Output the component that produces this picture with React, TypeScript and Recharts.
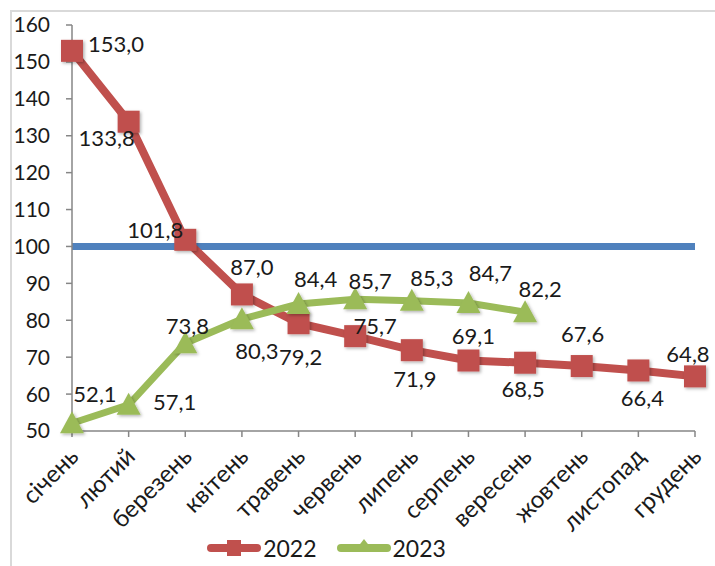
import React from "react";
import { LineChart, Line, XAxis, YAxis, ReferenceLine, LabelList, Legend } from "recharts";

const months = ["січень", "лютий", "березень", "квітень", "травень", "червень", "липень", "серпень", "вересень", "жовтень", "листопад", "грудень"];
const values2022 = [153.0, 133.8, 101.8, 87.0, 79.2, 75.7, 71.9, 69.1, 68.5, 67.6, 66.4, 64.8];
const values2023: (number | null)[] = [52.1, 57.1, 73.8, 80.3, 84.4, 85.7, 85.3, 84.7, 82.2, null, null, null];
const yTicks = [50, 60, 70, 80, 90, 100, 110, 120, 130, 140, 150, 160];
const baseline = 100;

// label placement (dx, dy from the point, to the label centre)
const labelShift2022 = [[44, -7], [-22, 16], [-30, -10], [10, -28], [2, 33], [20, -11], [3, 28], [5, -25], [-2, 26], [1, -33], [4, 27], [-7, -23]];
const labelShift2023 = [[23, -30], [46, -3], [2, -18], [15, 31], [17, -26], [15, -19], [20, -23], [22, -30], [15, -24]];

const data = months.map((m, i) => ({ month: m, y2022: values2022[i], y2023: values2023[i] }));

const RED = "#C0504D";
const GREEN = "#9BBB59";
const BLUE = "#4F81BD";
const AXIS = "#868686";
const FONT = "Lato, 'Liberation Sans', sans-serif";

const fmt = (v: number) => v.toFixed(1).replace(".", ",");

const makeLabel = (shifts: number[][]) => (props: any) => {
  const { x, y, value, index } = props;
  if (value == null || x == null || y == null) return null;
  const s = shifts[index] || [0, 0];
  return (
    <text x={x + s[0]} y={y + s[1]} textAnchor="middle" dominantBaseline="central" fontFamily={FONT} fontSize={22} fill="#1a1a1a">
      {fmt(value)}
    </text>
  );
};

const SquareDot = (props: any) => {
  const { cx, cy, index } = props;
  if (cx == null || cy == null) return <g key={`s${index}`} />;
  return <rect key={`s${index}`} x={cx - 11} y={cy - 11} width={22} height={22} fill={RED} filter="url(#mshadow)" />;
};

const TriDot = (props: any) => {
  const { cx, cy, index, value } = props;
  if (cx == null || cy == null || value == null) return <g key={`t${index}`} />;
  return <path key={`t${index}`} d={`M${cx},${cy - 12} L${cx + 12},${cy + 10} L${cx - 12},${cy + 10} Z`} fill={GREEN} filter="url(#mshadow)" />;
};

const XTick = (props: any) => {
  const { x, y, payload } = props;
  const ax = x + 8;
  const ay = y + 19;
  return (
    <text x={ax} y={ay} transform={`rotate(-45, ${ax}, ${ay})`} textAnchor="end" fontFamily={FONT} fontSize={24} fill="#1a1a1a">
      {payload.value}
    </text>
  );
};

const LegendContent = () => (
  <div style={{ display: "flex", justifyContent: "center", alignItems: "center", height: 30, fontFamily: FONT, fontSize: 23, color: "#1a1a1a", paddingRight: 43 }}>
    <svg width={56} height={20} style={{ marginRight: 1 }}>
      <line x1={5} y1={10} x2={51} y2={10} stroke={RED} strokeWidth={8} strokeLinecap="round" />
      <rect x={21} y={2} width={14} height={16} fill={RED} />
    </svg>
    <span style={{ marginRight: 19 }}>2022</span>
    <svg width={56} height={20} style={{ marginRight: 1 }}>
      <line x1={5} y1={10} x2={51} y2={10} stroke={GREEN} strokeWidth={8} strokeLinecap="round" />
      <path d="M28,1 L35,10 L21,10 Z" fill={GREEN} />
    </svg>
    <span>2023</span>
  </div>
);

export default function App() {
  return (
    <div style={{ position: "absolute", left: 0, top: 0, width: 715, height: 566, overflow: "hidden", background: "#fff" }}>
      <div style={{ position: "absolute", left: 10, top: 10, width: 720, height: 580, border: "2px solid #d9d9d9" }} />
      <LineChart width={715} height={566} data={data} margin={{ top: 25, right: 20, bottom: 3, left: 0 }}>
        <defs>
          <filter id="mshadow" x="-50%" y="-50%" width="200%" height="200%">
            <feDropShadow dx={1.5} dy={1.5} stdDeviation={1.5} floodColor="#000" floodOpacity={0.3} />
          </filter>
        </defs>
        <XAxis
          dataKey="month"
          interval={0}
          tick={<XTick />}
          tickSize={6}
          axisLine={{ stroke: AXIS, strokeWidth: 1.5 }}
          tickLine={{ stroke: AXIS, strokeWidth: 1.5 }}
          height={102}
        />
        <YAxis
          domain={[50, 160]}
          ticks={yTicks}
          interval={0}
          width={72}
          tickSize={6}
          tickMargin={16}
          axisLine={{ stroke: AXIS, strokeWidth: 1.5 }}
          tickLine={{ stroke: AXIS, strokeWidth: 1.5 }}
          tick={{ fontFamily: FONT, fontSize: 21, fill: "#1a1a1a" }}
        />
        <ReferenceLine y={baseline} stroke={BLUE} strokeWidth={7} />
        <Line dataKey="y2022" name="2022" stroke={RED} strokeWidth={8} dot={SquareDot} isAnimationActive={false}>
          <LabelList dataKey="y2022" content={makeLabel(labelShift2022)} />
        </Line>
        <Line dataKey="y2023" name="2023" stroke={GREEN} strokeWidth={7} dot={TriDot} isAnimationActive={false}>
          <LabelList dataKey="y2023" content={makeLabel(labelShift2023)} />
        </Line>
        <Legend verticalAlign="bottom" height={30} content={<LegendContent />} />
      </LineChart>
    </div>
  );
}
